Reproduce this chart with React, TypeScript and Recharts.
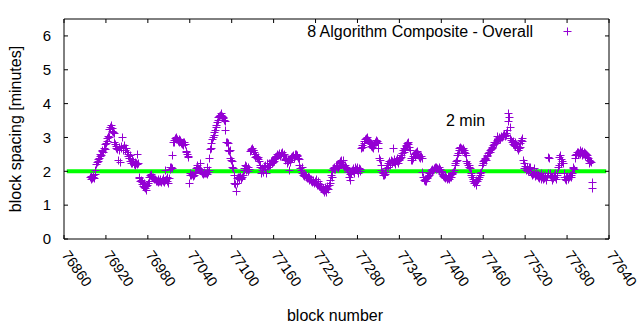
import React from 'react';
import { ReferenceLine, Scatter, ScatterChart, XAxis, YAxis } from 'recharts';

// block spacing in minutes, one value per block starting at firstBlock
const firstBlock = 76897;
const spacing = [
  1.82, 1.78, 1.86, 1.8, 1.84, 1.88, 1.79, 1.92, 2.05, 2.22, // 76897
  2.28, 2.35, 2.31, 2.4, 2.44, 2.52, 2.48, 2.6, 2.63, 2.58,
  2.7, 2.66, 2.82, 2.85, 2.9, 2.98, 3.05, 3.02, 3.25, 3.32,
  3.37, 3.28, 3.2, 3.15, 3.12, 2.88, 2.8, 2.74, 2.7, 2.66,
  2.33, 2.72, 2.62, 2.28, 2.68, 2.75, 3.02, 2.7, 2.64, 2.78,
  2.68, 2.62, 2.7, 2.58, 2.52, 2.45, 2.4, 2.48, 2.3, 2.26,
  2.35, 2.24, 2.29, 2.22, 2.28, 2.2, 2.25, 2.52, 2.22, 2.24,
  1.84, 1.8, 1.72, 1.74, 1.68, 1.62, 1.58, 1.55, 1.65, 1.5,
  1.46, 1.56, 1.6, 1.66, 1.72, 1.82, 1.88, 1.86, 1.92, 1.84,
  1.8, 1.84, 1.76, 1.78, 1.72, 1.74, 1.7, 1.68, 1.76, 1.72,
  1.78, 1.7, 1.68, 1.74, 1.8, 1.72, 1.69, 1.74, 2.04, 1.78, // 76997
  1.7, 1.84, 1.66, 1.8, 2.12, 2.08, 2.14, 2.1, 2.48, 2.86,
  2.88, 2.92, 2.98, 2.95, 3.0, 2.96, 2.9, 2.94, 2.86, 2.92,
  2.88, 2.84, 2.8, 2.86, 2.78, 2.88, 2.82, 2.6, 2.58, 2.52,
  2.43, 2.45, 1.65, 1.95, 1.9, 1.88, 1.92, 1.86, 1.9, 1.89,
  1.94, 1.98, 2.1, 2.19, 2.14, 2.1, 2.06, 2.24, 2.08, 2.02,
  1.96, 1.98, 1.92, 1.95, 1.99, 1.94, 1.96, 2.14, 1.92, 1.98,
  2.04, 2.4, 2.65, 2.7, 2.84, 2.96, 3.02, 3.07, 3.17, 3.22,
  3.3, 3.36, 3.45, 3.52, 3.6, 3.64, 3.67, 3.72, 3.66, 3.62,
  3.6, 3.57, 3.52, 3.48, 3.22, 2.88, 2.86, 2.84, 2.63, 2.6,
  2.62, 2.39, 2.34, 2.3, 2.14, 2.1, 1.89, 1.65, 1.62, 1.42, // 77097
  1.66, 1.8, 1.84, 1.78, 1.82, 1.86, 1.8, 1.76, 1.84, 1.9,
  2.04, 2.1, 2.19, 2.15, 2.04, 2.08, 2.02, 2.12, 2.06, 2.6,
  2.63, 2.66, 2.68, 2.62, 2.64, 2.58, 2.5, 2.43, 2.45, 2.39,
  2.42, 2.36, 2.3, 2.14, 2.2, 1.94, 2.1, 2.04, 1.98, 2.16,
  2.08, 2.2, 1.96, 2.18, 2.24, 2.14, 2.2, 2.26, 2.18, 2.3,
  2.24, 2.34, 2.28, 2.36, 2.3, 2.42, 2.38, 2.45, 2.5, 2.48,
  2.53, 2.52, 2.46, 2.55, 2.5, 2.58, 2.48, 2.44, 2.52, 2.36,
  2.33, 2.4, 2.26, 2.36, 2.3, 2.04, 2.34, 2.28, 2.42, 2.38,
  2.45, 2.48, 2.4, 2.52, 2.46, 2.5, 2.44, 2.48, 2.4, 2.36,
  2.19, 2.1, 2.04, 2.14, 1.94, 1.89, 1.92, 1.86, 1.9, 1.84, // 77197
  1.88, 1.8, 1.86, 1.82, 1.74, 1.78, 1.7, 1.76, 1.68, 1.72,
  1.74, 1.66, 1.7, 1.78, 1.64, 1.6, 1.72, 1.66, 1.58, 1.62,
  1.55, 1.52, 1.48, 1.44, 1.5, 1.4, 1.54, 1.46, 1.38, 1.52,
  1.56, 1.48, 1.6, 1.65, 1.74, 1.89, 1.84, 2.04, 2.1, 2.08,
  2.12, 2.06, 2.18, 2.14, 2.2, 2.1, 2.24, 2.16, 2.3, 2.34,
  2.28, 2.22, 2.34, 2.18, 2.14, 2.2, 2.1, 2.14, 2.06, 2.04,
  1.98, 1.84, 1.74, 1.92, 1.96, 2.04, 2.1, 2.0, 1.94, 2.06,
  2.14, 2.08, 2.12, 2.04, 1.96, 2.1, 2.02, 2.06, 2.68, 2.72,
  2.78, 2.73, 2.85, 2.9, 2.94, 2.98, 3.02, 2.96, 2.92, 2.88,
  2.9, 2.84, 2.8, 2.76, 2.73, 2.7, 2.78, 2.82, 2.88, 2.93, // 77297
  2.86, 2.9, 2.84, 2.68, 2.39, 2.33, 2.19, 2.04, 1.98, 1.89,
  1.94, 1.9, 1.99, 1.92, 2.1, 2.2, 2.14, 2.24, 2.3, 2.19,
  2.26, 2.34, 2.24, 2.3, 2.68, 2.36, 2.28, 2.22, 2.32, 2.38,
  2.29, 2.26, 2.36, 2.34, 2.4, 2.43, 2.48, 2.55, 2.62, 2.7,
  2.58, 2.66, 2.74, 2.78, 2.83, 2.86, 2.8, 2.72, 2.64, 2.33,
  2.4, 2.33, 2.46, 2.38, 2.5, 2.44, 2.53, 2.58, 2.6, 2.52,
  2.48, 2.43, 2.45, 2.4, 2.44, 2.39, 1.99, 1.82, 1.74, 1.7,
  1.76, 1.72, 1.8, 1.84, 1.86, 1.9, 1.94, 1.99, 2.04, 2.02,
  2.06, 2.04, 2.1, 2.08, 2.12, 2.06, 2.14, 2.1, 2.08, 2.12,
  2.04, 2.06, 2.0, 1.98, 1.92, 1.86, 1.9, 1.84, 1.8, 1.88, // 77397
  1.82, 1.78, 1.86, 1.8, 1.76, 1.84, 1.88, 1.82, 1.92, 1.96,
  1.99, 2.04, 2.19, 2.24, 2.3, 2.34, 2.48, 2.55, 2.62, 2.68,
  2.73, 2.7, 2.66, 2.62, 2.68, 2.58, 2.64, 2.53, 2.48, 2.29,
  2.24, 2.19, 2.14, 2.2, 2.1, 1.94, 1.88, 1.84, 1.78, 1.72,
  1.65, 1.68, 1.6, 1.74, 1.7, 1.78, 1.76, 1.84, 1.9, 1.94,
  1.98, 2.19, 2.24, 2.3, 2.33, 2.36, 2.4, 2.34, 2.44, 2.48,
  2.53, 2.56, 2.58, 2.62, 2.66, 2.73, 2.7, 2.78, 2.82, 2.86,
  2.88, 2.84, 2.92, 3.03, 2.94, 2.98, 3.0, 2.96, 3.02, 3.05,
  3.0, 3.08, 3.04, 3.1, 3.03, 3.06, 3.12, 3.22, 3.5, 3.72,
  3.6, 3.32, 2.98, 2.93, 2.88, 2.82, 2.9, 2.78, 2.86, 2.74, // 77497
  2.8, 2.7, 2.76, 2.63, 2.68, 2.72, 2.84, 2.92, 2.98, 2.9,
  2.34, 2.09, 2.24, 2.16, 2.04, 2.12, 2.08, 2.0, 2.14, 2.06,
  2.14, 2.02, 1.96, 1.89, 1.92, 2.1, 1.94, 1.86, 1.98, 1.9,
  1.88, 1.84, 1.92, 1.8, 1.86, 1.94, 1.78, 1.82, 1.88, 1.76,
  1.8, 1.84, 1.9, 1.74, 1.86, 1.96, 2.43, 2.4, 1.94, 1.88,
  1.82, 1.86, 1.74, 1.8, 1.9, 1.84, 1.94, 1.78, 1.88, 1.94,
  2.14, 2.2, 2.43, 2.48, 2.36, 2.24, 2.3, 2.24, 1.94, 1.84,
  1.78, 1.82, 1.74, 1.86, 1.8, 1.76, 1.84, 1.88, 1.9, 1.82,
  1.94, 2.09, 2.14, 2.06, 2.4, 2.48, 2.52, 2.56, 2.5, 2.58,
  2.54, 2.62, 2.5, 2.56, 2.48, 2.6, 2.52, 2.58, 2.46, 2.54, // 77597
  2.5, 2.42, 2.48, 2.38, 2.34, 2.24, 2.3, 2.28, 1.69, 1.5,
];

const targetMinutes = 2;
const targetFrom = 76864;
const targetTo = 77636;

const xTicks = [76860, 76920, 76980, 77040, 77100, 77160, 77220, 77280, 77340, 77400, 77460, 77520, 77580, 77640];
const yTicks = [0, 1, 2, 3, 4, 5, 6];

const points = spacing.map((v, i) => ({ block: firstBlock + i, spacing: v }));

const FONT = '"Liberation Sans", Arial, sans-serif';
const PURPLE = '#9400d3';

function PlusMark(props: any) {
  const { cx, cy } = props;
  if (cx == null || cy == null) return <g />;
  // snap to pixel centres so the 1px strokes stay solid like gnuplot's
  const x = Math.round(cx) + 0.5;
  const y = Math.round(cy) + 0.5;
  return (
    <path
      d={`M${x - 4},${y}H${x + 4}M${x},${y - 4}V${y + 4}`}
      stroke={PURPLE}
      strokeWidth={1}
      fill="none"
    />
  );
}

function BottomTick(props: any) {
  const { x, y, payload } = props;
  return (
    <g>
      <line x1={x} x2={x} y1={y} y2={y - 4} stroke="#000" />
      <text
        transform={`translate(${x + 1.5},${y + 13}) rotate(55)`}
        dy="0.35em"
        fontSize={14.5}
        fontFamily={FONT}
        fill="#000"
        textAnchor="start"
      >
        {payload.value}
      </text>
    </g>
  );
}

function TopTick(props: any) {
  const { x, y } = props;
  return <line x1={x} x2={x} y1={y} y2={y + 4} stroke="#000" />;
}

function LeftTick(props: any) {
  const { x, y, payload } = props;
  return (
    <g>
      <line x1={x} x2={x + 4} y1={y} y2={y} stroke="#000" />
      <text x={x - 13} y={y} dy="0.35em" fontSize={15} fontFamily={FONT} fill="#000" textAnchor="end">
        {payload.value}
      </text>
    </g>
  );
}

function RightTick(props: any) {
  const { x, y } = props;
  return <line x1={x} x2={x - 4} y1={y} y2={y} stroke="#000" />;
}

export default function App() {
  return (
    <div style={{ position: 'absolute', left: 0, top: 0, width: 640, height: 330, background: '#fff' }}>
      <ScatterChart width={640} height={330} margin={{ top: 0, right: 0, bottom: 0, left: 0 }}>
        <XAxis
          xAxisId="b"
          type="number"
          dataKey="block"
          domain={[76860, 77640]}
          ticks={xTicks}
          interval={0}
          allowDataOverflow
          height={91}
          tickSize={0}
          tickMargin={0}
          tickLine={false}
          axisLine={{ stroke: '#000' }}
          tick={<BottomTick />}
        />
        <XAxis
          xAxisId="t"
          orientation="top"
          type="number"
          dataKey="block"
          domain={[76860, 77640]}
          ticks={xTicks}
          interval={0}
          allowDataOverflow
          height={19}
          tickSize={0}
          tickMargin={0}
          tickLine={false}
          axisLine={{ stroke: '#000' }}
          tick={<TopTick />}
        />
        <YAxis
          yAxisId="l"
          type="number"
          dataKey="spacing"
          domain={[0, 6.5]}
          ticks={yTicks}
          interval={0}
          allowDataOverflow
          width={64}
          tickSize={0}
          tickMargin={0}
          tickLine={false}
          axisLine={{ stroke: '#000' }}
          tick={<LeftTick />}
        />
        <YAxis
          yAxisId="r"
          orientation="right"
          type="number"
          dataKey="spacing"
          domain={[0, 6.5]}
          ticks={yTicks}
          interval={0}
          allowDataOverflow
          width={31}
          tickSize={0}
          tickMargin={0}
          tickLine={false}
          axisLine={{ stroke: '#000' }}
          tick={<RightTick />}
        />
        <Scatter
          xAxisId="b"
          yAxisId="l"
          data={points}
          shape={<PlusMark />}
          isAnimationActive={false}
        />
        <ReferenceLine
          xAxisId="b"
          yAxisId="l"
          segment={[
            { x: targetFrom, y: targetMinutes },
            { x: targetTo, y: targetMinutes },
          ]}
          stroke="#00ff00"
          strokeWidth={4}
        />
      </ScatterChart>
      <svg
        width={640}
        height={330}
        style={{ position: 'absolute', left: 0, top: 0, pointerEvents: 'none' }}
        fontFamily={FONT}
      >
        <text x={533} y={37} fontSize={16} textAnchor="end" fill="#000">
          8 Algorithm Composite - Overall
        </text>
        <path d="M563.5,31.5H571.5M567.5,27.5V35.5" stroke={PURPLE} strokeWidth={1} />
        <text x={446} y={126} fontSize={16} fill="#000">
          2 min
        </text>
        <text x={335} y={321} fontSize={16} textAnchor="middle" fill="#000">
          block number
        </text>
        <text transform="translate(21,129) rotate(-90)" fontSize={16} textAnchor="middle" fill="#000">
          block spacing [minutes]
        </text>
      </svg>
    </div>
  );
}
